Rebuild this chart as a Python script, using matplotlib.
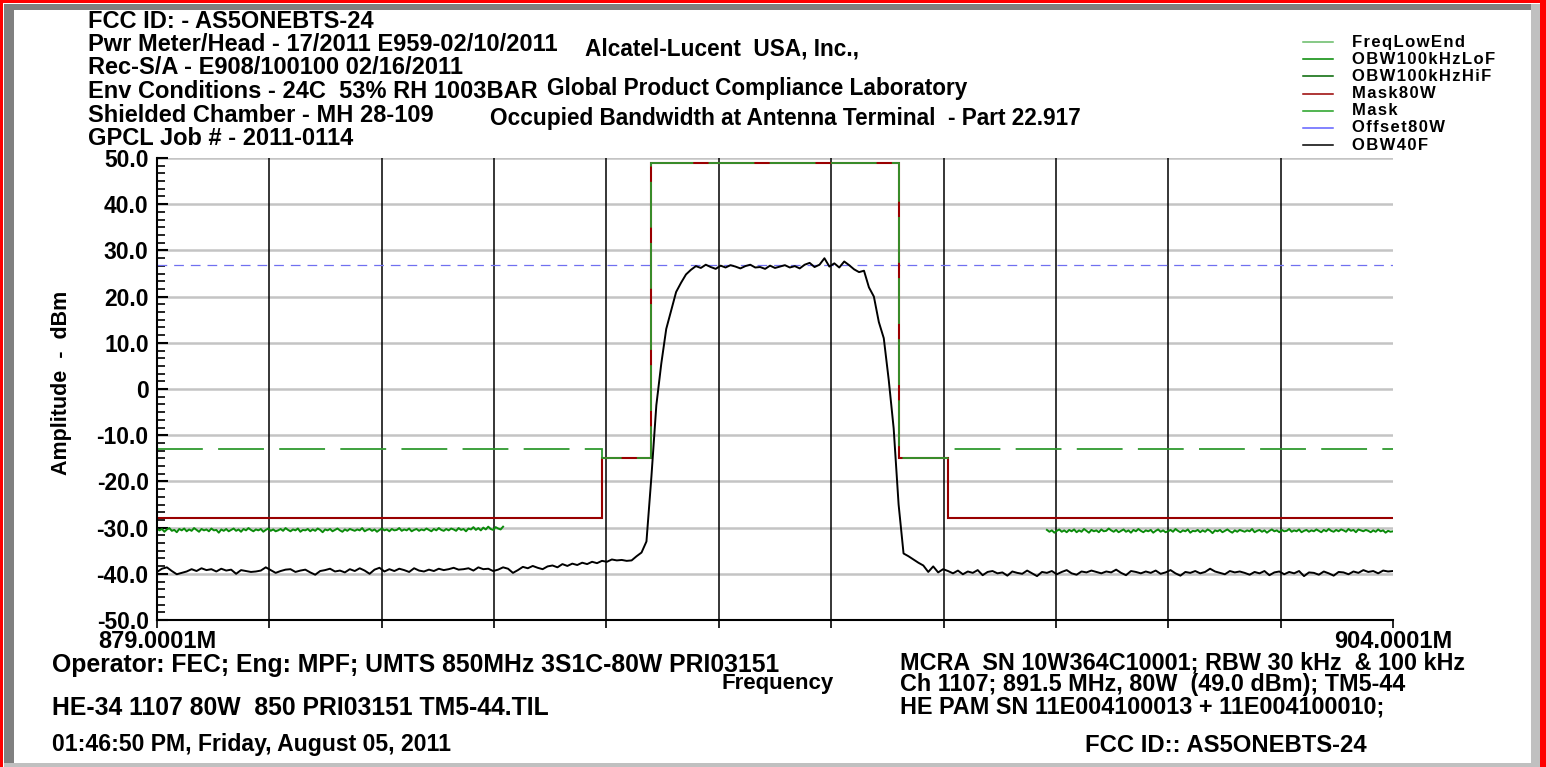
import numpy as np
import matplotlib.pyplot as plt
from matplotlib.patches import Rectangle
from matplotlib.lines import Line2D

plt.rcParams['font.family'] = ['Liberation Sans', 'DejaVu Sans']
plt.rcParams['font.weight'] = 'bold'
plt.rcParams['lines.scale_dashes'] = False

W, H = 1546, 767

# sweep span in MHz
f_start, f_stop = 879.0001, 904.0001

# OBW40F trace, 0.1 MHz steps (dBm)
obw40f_dbm = [
    -39.6, -38.9, -38.6, -39.4, -40.1, -39.8, -39.5, -39.0, -39.4, -38.8,
    -39.2, -39.0, -39.5, -38.9, -39.3, -39.1, -40.0, -39.2, -39.4, -39.6,
    -39.5, -39.3, -38.6, -39.2, -39.8, -39.4, -39.1, -39.0, -39.6, -39.3,
    -39.1, -39.7, -40.2, -39.4, -39.2, -38.9, -39.5, -39.3, -39.7, -39.0,
    -39.4, -38.8, -39.3, -40.0, -39.1, -38.7, -39.5, -39.0, -39.4, -38.9,
    -39.2, -39.6, -38.8, -39.3, -39.5, -39.1, -39.4, -38.9, -39.2, -39.0,
    -38.7, -39.1, -39.0, -38.8, -39.3, -38.6, -39.0, -38.9, -39.4, -39.1,
    -38.6, -38.9, -39.8, -39.2, -38.5, -38.8, -38.3, -38.7, -39.0, -38.4,
    -38.2, -38.6, -37.9, -38.3, -37.8, -38.1, -37.6, -37.9, -37.4, -37.7,
    -37.2, -37.4, -36.9, -37.1, -37.0, -37.2, -37.1, -36.2, -35.4, -33.0,
    -19.0, -3.5, 5.5, 13.0, 17.0, 21.0, 23.0, 24.8, 25.8, 26.6,
    26.2, 26.9, 26.4, 26.0, 26.7, 26.3, 26.8, 26.5, 26.1, 26.6,
    26.9, 26.3, 26.4, 26.0, 26.7, 26.2, 26.5, 26.8, 26.3, 26.6,
    26.1, 26.9, 27.3, 26.4, 26.9, 28.3, 26.5, 27.2, 26.3, 27.6,
    26.8, 25.9, 25.3, 25.6, 22.0, 20.0, 14.5, 11.0, 2.0, -8.5,
    -25.0, -35.6, -36.2, -36.9, -37.6, -38.2, -39.6, -38.4, -39.7, -39.0,
    -39.4, -39.9, -39.3, -40.1, -39.5, -39.8, -39.2, -40.3, -39.6, -39.4,
    -39.9, -39.7, -40.4, -39.5, -39.8, -40.0, -39.3, -39.9, -40.5, -39.6,
    -39.8, -39.4, -40.1, -39.6, -39.2, -39.9, -40.2, -39.5, -39.7, -39.3,
    -39.6, -39.9, -39.5, -39.7, -39.1, -39.8, -40.3, -39.4, -39.6, -39.9,
    -39.5, -39.8, -39.3, -40.0, -39.7, -39.2, -39.9, -40.4, -39.6, -39.8,
    -39.4, -39.9, -39.6, -38.9, -39.5, -39.8, -40.1, -39.4, -39.7, -39.5,
    -39.8, -40.2, -39.6, -39.9, -39.4, -40.3, -39.7, -39.5, -40.1, -39.6,
    -39.9, -39.4, -40.5, -39.7, -39.8, -40.2, -39.5, -39.9, -40.4, -39.6,
    -39.7, -40.1, -39.5, -39.8, -39.2, -39.6, -39.4, -39.9, -39.3, -39.5,
    -39.4,
]

# OBW 100 kHz low side trace, 879-886 MHz (dBm)
obw_lo_band = (879.0001, 886.0001)
obw_lo_dbm = [
    -30.2, -30.6, -30.3, -30.9, -30.4, -30.1, -30.7, -30.5, -31.0, -30.3,
    -30.6, -30.2, -30.8, -30.4, -30.7, -30.1, -30.5, -30.9, -30.3, -30.6,
    -30.4, -30.8, -30.2, -30.6, -30.5, -31.1, -30.4, -30.7, -30.3, -30.8,
    -30.5, -30.2, -30.7, -30.4, -30.9, -30.3, -30.6, -30.1, -30.5, -30.8,
    -30.4, -30.6, -30.3, -30.9, -30.5, -30.2, -30.7, -30.4, -30.8, -30.6,
    -30.3, -30.7, -30.1, -30.5, -30.8, -30.4, -30.6, -30.2, -30.9, -30.5,
    -30.6, -30.3, -30.8, -30.4, -30.7, -30.2, -30.5, -31.0, -30.4, -30.6,
    -30.3, -30.8, -30.5, -30.2, -30.6, -30.9, -30.4, -30.7, -30.3, -30.5,
    -30.7, -30.4, -30.6, -30.1, -30.8, -30.5, -30.3, -30.7, -30.4, -30.9,
    -30.5, -30.2, -30.6, -30.4, -30.8, -30.3, -30.6, -30.5, -30.1, -30.7,
    -30.4, -30.6, -30.2, -30.8, -30.5, -30.3, -30.7, -30.4, -30.6, -30.2,
    -30.5, -30.8, -30.3, -30.6, -30.1, -30.5, -30.7, -30.3, -30.6, -30.2,
    -30.4, -30.7, -30.1, -30.5, -30.3, -30.8, -30.2, -30.4, -29.9, -30.5,
    -30.1, -30.6, -30.0, -30.4, -29.8, -30.3, -30.5, -29.9, -30.2, -30.4,
    -29.8,
]

# OBW 100 kHz high side trace, 897-904 MHz (dBm)
obw_hi_band = (897.0001, 904.0001)
obw_hi_dbm = [
    -30.5, -30.9, -30.6, -31.1, -30.7, -30.4, -30.9, -30.6, -31.0, -30.5,
    -30.8, -30.4, -31.0, -30.6, -30.9, -30.3, -30.7, -31.1, -30.5, -30.8,
    -30.6, -31.0, -30.4, -30.8, -30.7, -30.2, -30.6, -30.9, -30.5, -31.0,
    -30.7, -30.4, -30.9, -30.6, -31.1, -30.5, -30.8, -30.3, -30.7, -31.0,
    -30.6, -30.8, -30.5, -31.1, -30.7, -30.4, -30.9, -30.6, -31.0, -30.8,
    -30.5, -30.9, -30.3, -30.7, -31.0, -30.6, -30.8, -30.4, -31.1, -30.7,
    -30.8, -30.5, -31.0, -30.6, -30.9, -30.4, -30.7, -31.2, -30.6, -30.8,
    -30.5, -31.0, -30.7, -30.4, -30.8, -31.1, -30.6, -30.9, -30.5, -30.7,
    -30.9, -30.6, -30.8, -30.3, -31.0, -30.7, -30.5, -30.9, -30.6, -31.1,
    -30.7, -30.4, -30.8, -30.6, -31.0, -30.5, -30.8, -30.7, -30.3, -30.9,
    -30.6, -30.8, -30.4, -31.0, -30.7, -30.5, -30.9, -30.6, -30.8, -30.4,
    -30.7, -31.0, -30.5, -30.8, -30.3, -30.7, -30.9, -30.5, -30.8, -30.4,
    -30.6, -30.9, -30.3, -30.7, -30.5, -31.0, -30.4, -30.6, -30.8, -30.5,
    -30.7, -31.0, -30.6, -30.9, -30.4, -30.8, -30.6, -31.1, -30.7, -30.9,
    -30.8,
]

# masks (step limits) and offset line
mask_edges = [879.0001, 888.0, 889.0, 894.0, 895.0, 904.0001]
mask80w_dbm = [-28, -15, 49, -15, -28]
mask_dbm = [-13, -15, 49, -15, -13]
offset80w_dbm = 26.8

y_ticks = [-50, -40, -30, -20, -10, 0, 10, 20, 30, 40, 50]
y_tick_labels = ['-50.0', '-40.0', '-30.0', '-20.0', '-10.0', '0',
                 '10.0', '20.0', '30.0', '40.0', '50.0']
n_xdiv = 11

header_lines = [
    'FCC ID: - AS5ONEBTS-24',
    'Pwr Meter/Head - 17/2011 E959-02/10/2011',
    'Rec-S/A - E908/100100 02/16/2011',
    'Env Conditions - 24C  53% RH 1003BAR',
    'Shielded Chamber - MH 28-109',
    'GPCL Job # - 2011-0114',
]
title_lines = [
    ('Alcatel-Lucent  USA, Inc.,', 722, 49),
    ('Global Product Compliance Laboratory', 757, 89),
    ('Occupied Bandwidth at Antenna Terminal  - Part 22.917', 785, 119),
]
legend_items = [
    ('FreqLowEnd', '#66bb66'),
    ('OBW100kHzLoF', '#008800'),
    ('OBW100kHzHiF', '#006400'),
    ('Mask80W', '#990000'),
    ('Mask', '#22a022'),
    ('Offset80W', '#6060ff'),
    ('OBW40F', '#000000'),
]
notes_left = [
    ('Operator: FEC; Eng: MPF; UMTS 850MHz 3S1C-80W PRI03151', 665, 17.8),
    ('HE-34 1107 80W  850 PRI03151 TM5-44.TIL', 708, 17.8),
    ('01:46:50 PM, Friday, August 05, 2011', 745, 16.6),
]
notes_right = [
    ('MCRA  SN 10W364C10001; RBW 30 kHz  & 100 kHz', 663),
    ('Ch 1107; 891.5 MHz, 80W  (49.0 dBm); TM5-44', 685),
    ('HE PAM SN 11E004100013 + 11E004100010;', 707),
]


def fx(px):
    return px / W


def fy(py):
    return 1 - py / H


fig = plt.figure(figsize=(W / 100, H / 100), dpi=100)
fig.patch.set_facecolor('white')

# bevelled frame round the page
frame = [
    (0, 0, 3, H, '#ff0000'),
    (0, 0, W, 3, '#ff0000'),
    (1540, 0, 6, H, '#ff0000'),
    (4, 4, 10, H - 4, '#808080'),
    (4, 4, 1528, 6, '#808080'),
    (1531, 4, 9, H - 4, '#c0c0c0'),
    (4, 763, 1536, 4, '#c0c0c0'),
]
for x0, y0, w, h, c in frame:
    fig.add_artist(Rectangle((fx(x0), fy(y0 + h)), w / W, h / H,
                             transform=fig.transFigure, color=c, lw=0))

ax = fig.add_axes([fx(157), fy(620), (1393 - 157) / W, (620 - 158) / H])
ax.set_xlim(f_start, f_stop)
ax.set_ylim(-50, 50)
ax.patch.set_alpha(0)

for y in y_ticks[1:]:
    ax.axhline(y, color='#c4c4c4', lw=1.8, zorder=0)
x_ticks = np.linspace(f_start, f_stop, n_xdiv + 1)
for x in x_ticks[1:-1]:
    ax.axvline(x, color='black', lw=1.1, zorder=1)

ax.stairs(mask80w_dbm, mask_edges, baseline=None, color='#990000', lw=1.5, zorder=3)
ax.stairs(mask_dbm, mask_edges, baseline=None, color='#2f9a2f', lw=1.3,
          linestyle=(0, (33, 11)), zorder=4)
ax.axhline(offset80w_dbm, color='#7070f0', lw=0.9, dashes=(7, 5), zorder=2)

ax.plot(np.linspace(*obw_lo_band, len(obw_lo_dbm)), obw_lo_dbm, color='#0a8a0a', lw=1.4, zorder=5)
ax.plot(np.linspace(*obw_hi_band, len(obw_hi_dbm)), obw_hi_dbm, color='#0a8a0a', lw=1.4, zorder=5)
ax.plot(np.linspace(f_start, f_stop, len(obw40f_dbm)), obw40f_dbm, color='black', lw=1.4, zorder=6)

for side in ['top', 'right']:
    ax.spines[side].set_visible(False)
for side in ['left', 'bottom']:
    ax.spines[side].set_linewidth(1.5)
    ax.spines[side].set_zorder(7)

ax.set_yticks(y_ticks)
ax.set_yticklabels(y_tick_labels)
ax.set_yticks(np.linspace(-50, 50, 61), minor=True)
ax.tick_params(axis='y', which='major', direction='in', length=8, width=1.5,
               labelsize=16.5, pad=6)
ax.tick_params(axis='y', which='minor', direction='in', length=6, width=1.2)
ax.set_xticks(x_ticks)
ax.set_xticklabels(['879.0001M'] + [''] * (n_xdiv - 1) + ['904.0001M'])
ax.tick_params(axis='x', which='major', direction='out', length=6, width=1.2,
               labelsize=17, pad=1)

fig.text(fx(62), fy(383), 'Amplitude  -  dBm', rotation=90, fontsize=15.5,
         ha='center', va='center')

for i, line in enumerate(header_lines):
    fig.text(fx(88), fy(21 + 23.5 * i), line, fontsize=17, ha='left', va='center')
for text, x, y in title_lines:
    fig.text(fx(x), fy(y), text, fontsize=16.3, ha='center', va='center')

for i, (name, color) in enumerate(legend_items):
    y = 42 + 17.2 * i
    fig.add_artist(Line2D([fx(1303), fx(1333)], [fy(y), fy(y)], color=color, lw=1.1,
                          transform=fig.transFigure))
    fig.text(fx(1352), fy(y), '\u200a'.join(name), fontsize=12, ha='left', va='center')

for text, y, size in notes_left:
    fig.text(fx(52), fy(y), text, fontsize=size, ha='left', va='center')
fig.text(fx(778), fy(683), 'Frequency', fontsize=16, ha='center', va='center')
for text, y in notes_right:
    fig.text(fx(900), fy(y), text, fontsize=16.8, ha='left', va='center')
fig.text(fx(1085), fy(745), 'FCC ID:: AS5ONEBTS-24', fontsize=17.2, ha='left', va='center')

fig.savefig('out.png', dpi=100)
